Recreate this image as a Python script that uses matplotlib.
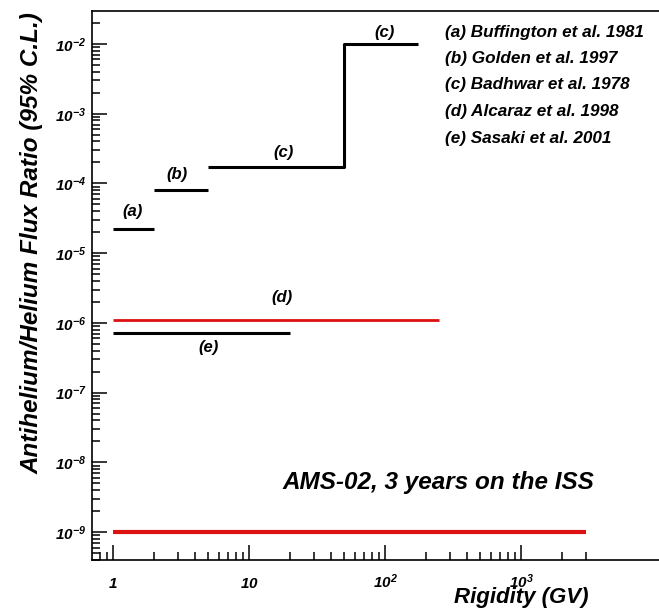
import math
import matplotlib
matplotlib.use("Agg")
import matplotlib.pyplot as plt
from matplotlib.ticker import FixedLocator, FuncFormatter, LogLocator, NullFormatter

plt.rcParams['font.family'] = ['Liberation Sans', 'DejaVu Sans']
plt.rcParams['mathtext.fontset'] = 'custom'
plt.rcParams['mathtext.rm'] = 'Liberation Sans:italic:bold'
plt.rcParams['mathtext.it'] = 'Liberation Sans:italic:bold'
plt.rcParams['mathtext.bf'] = 'Liberation Sans:italic:bold'

# upper limits: rigidity from, rigidity to, ratio limit
r_lo = [1, 2, 5, 50, 1, 1, 1]
r_hi = [2, 5, 50, 175, 250, 20, 3000]
limit = [2.2e-5, 8e-5, 1.7e-4, 1e-2, 1.1e-6, 7.2e-7, 1e-9]
colors = ['black', 'black', 'black', 'black', '#dd1111', 'black', '#dd1111']
widths = [2.2, 2.2, 2.2, 2.2, 2.0, 2.2, 3.0]

refs = ['(a) Buffington et al. 1981', '(b) Golden et al. 1997',
        '(c) Badhwar et al. 1978', '(d) Alcaraz et al. 1998',
        '(e) Sasaki et al. 2001']

x_major = [1, 10, 100, 1000]
x_minor = [0.8, 0.9, 2, 3, 4, 5, 6, 7, 8, 9, 20, 30, 40, 50, 60, 70, 80, 90,
           200, 300, 400, 500, 600, 700, 800, 900, 2000, 3000]
y_major = [1e-9, 1e-8, 1e-7, 1e-6, 1e-5, 1e-4, 1e-3, 1e-2]

fig = plt.figure(figsize=(6.59, 6.12), dpi=100)
ax = fig.add_axes([0.1396, 0.085, 0.8604, 0.897])

# (c) is drawn as one connected step
ax.plot([r_lo[2], r_hi[2], r_lo[3], r_hi[3]],
        [limit[2], limit[2], limit[3], limit[3]], color='black', lw=2.2,
        solid_capstyle='butt')
for i in [0, 1, 4, 5, 6]:
    ax.plot([r_lo[i], r_hi[i]], [limit[i], limit[i]], color=colors[i],
            lw=widths[i], solid_capstyle='butt')

ax.set_xscale('log')
ax.set_yscale('log')
ax.set_xlim(0.70, 10355)
ax.set_ylim(3.98e-10, 2.97e-2)

ax.xaxis.set_major_locator(FixedLocator(x_major))
ax.xaxis.set_minor_locator(FixedLocator(x_minor))
ax.xaxis.set_minor_formatter(NullFormatter())
ax.yaxis.set_major_locator(FixedLocator(y_major))
ax.yaxis.set_minor_locator(LogLocator(base=10, subs=range(2, 10), numticks=20))
ax.yaxis.set_minor_formatter(NullFormatter())


def xfmt(v, pos):
    e = int(round(math.log10(v)))
    if e == 0:
        return r'$1$'
    if e == 1:
        return r'$10$'
    return r'$10^{%d}$' % e


def yfmt(v, pos):
    e = int(round(math.log10(v)))
    return r'$10^{%d}$' % e


ax.xaxis.set_major_formatter(FuncFormatter(xfmt))
ax.yaxis.set_major_formatter(FuncFormatter(yfmt))

ax.tick_params(which='both', direction='in', width=1.1, top=False, right=False)
ax.tick_params(which='major', length=10.5)
ax.tick_params(which='minor', length=5.5)
ax.tick_params(axis='y', labelsize=11, pad=4)
ax.tick_params(axis='x', labelsize=11, pad=20)
for lbl in ax.get_xticklabels():
    lbl.set_verticalalignment('baseline')

for s in ['left', 'bottom', 'top']:
    ax.spines[s].set_linewidth(1.2)
ax.spines['right'].set_visible(False)

txt = dict(fontsize=12, fontweight='bold', fontstyle='italic',
           ha='center', va='center')
ax.text(1.38, 4.0e-5, '(a)', **txt)
ax.text(2.95, 1.35e-4, '(b)', **txt)
ax.text(17.8, 2.77e-4, '(c)', **txt)
ax.text(100, 1.45e-2, '(c)', **txt)
ax.text(17.5, 2.35e-6, '(d)', **txt)
ax.text(5.0, 4.4e-7, '(e)', **txt)

ax.text(17.5, 5.2e-9, 'AMS-02, 3 years on the ISS', fontsize=17.5,
        fontweight='bold', fontstyle='italic', ha='left', va='center')

for k, r in enumerate(refs):
    fig.text(445 / 659, 1 - (32 + k * 26.5) / 612, r, fontsize=12.3,
             fontweight='bold', fontstyle='italic', ha='left', va='center')

fig.text(32 / 659, 1 - 243 / 612, 'Antihelium/Helium Flux Ratio (95% C.L.)',
         rotation=90, fontsize=17.5, fontweight='bold', fontstyle='italic',
         ha='center', va='center')
fig.text(588 / 659, 1 - 597 / 612, 'Rigidity (GV)', fontsize=16,
         fontweight='bold', fontstyle='italic', ha='right', va='center')

fig.savefig('out.png', dpi=100)
